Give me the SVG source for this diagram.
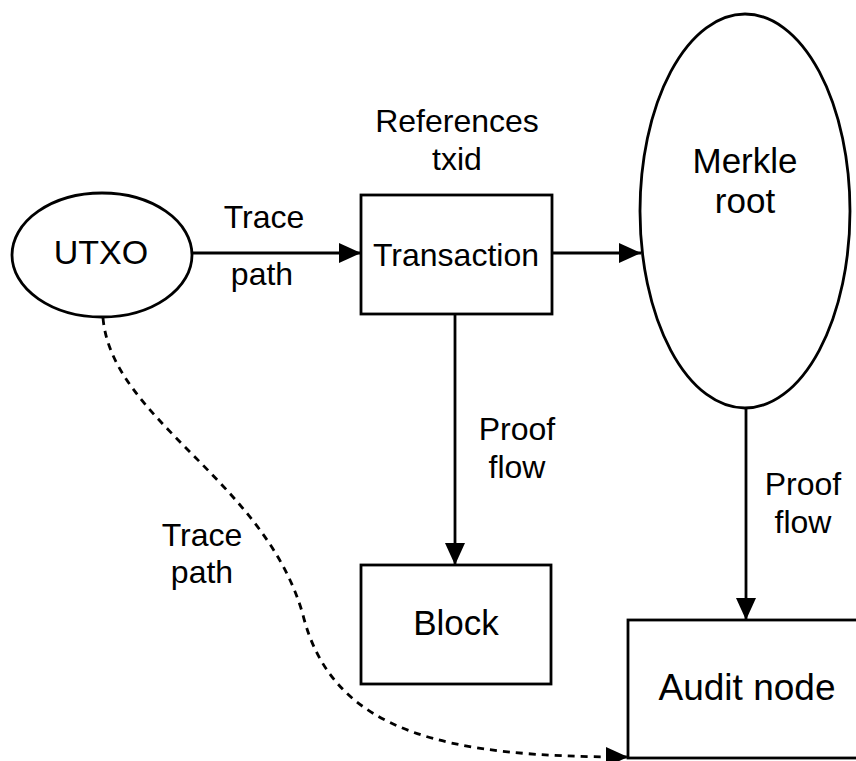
<svg xmlns="http://www.w3.org/2000/svg" width="856" height="761" viewBox="0 0 856 761">
  <style>
    .shape { fill: #ffffff; stroke: #000000; stroke-width: 2.8; }
    .edge { fill: none; stroke: #000000; stroke-width: 2.8; }
    .dashed { stroke-dasharray: 7 6; }
    text { font-family: "Liberation Sans", Arial, Helvetica, sans-serif; fill: #000000; text-anchor: middle; }
    .lbl { font-size: 32px; }
  </style>
  <defs>
    <marker id="arrow" markerUnits="userSpaceOnUse" markerWidth="24" markerHeight="22" refX="22" refY="10" orient="auto">
      <path d="M0,0 L22,10 L0,20 Z" fill="#000000"/>
    </marker>
  </defs>
  <rect width="856" height="761" fill="#ffffff"/>

  <!-- connectors -->
  <g id="edges">
    <path class="edge" d="M192,253 L361,253" marker-end="url(#arrow)"/>
    <path class="edge" d="M552,253 L641,253" marker-end="url(#arrow)"/>
    <path class="edge" d="M455,314 L455,565" marker-end="url(#arrow)"/>
    <path class="edge" d="M746,408 L746,620" marker-end="url(#arrow)"/>
    <path class="edge dashed" d="M103,318 C112,420 265,480 303,615 C333,735 450,757 628,757" marker-end="url(#arrow)"/>
    <text class="lbl" x="264" y="228">Trace</text>
    <text class="lbl" x="262" y="285">path</text>
    <text class="lbl" x="457" y="132">References</text>
    <text class="lbl" x="457" y="170">txid</text>
    <text class="lbl" x="517" y="440" font-size="34">Proof</text>
    <text class="lbl" x="517" y="478" font-size="34">flow</text>
    <text class="lbl" x="803" y="495" font-size="34">Proof</text>
    <text class="lbl" x="803" y="533" font-size="34">flow</text>
    <text class="lbl" x="202" y="546">Trace</text>
    <text class="lbl" x="202" y="583">path</text>
  </g>

  <!-- nodes -->
  <g id="utxo">
    <ellipse class="shape" cx="102" cy="255" rx="90" ry="62"/>
    <text x="101" y="264" font-size="34">UTXO</text>
  </g>
  <g id="transaction">
    <rect class="shape" x="361" y="195" width="191" height="119"/>
    <text x="456" y="266" font-size="32">Transaction</text>
  </g>
  <g id="merkle-root">
    <ellipse class="shape" cx="745" cy="211" rx="105" ry="197"/>
    <text x="745" y="173" font-size="35">Merkle</text>
    <text x="745" y="213" font-size="35">root</text>
  </g>
  <g id="block">
    <rect class="shape" x="361" y="565" width="190" height="119"/>
    <text x="456" y="635" font-size="35">Block</text>
  </g>
  <g id="audit-node">
    <rect class="shape" x="628" y="620" width="240" height="138"/>
    <text x="747" y="700" font-size="37">Audit node</text>
  </g>
</svg>
